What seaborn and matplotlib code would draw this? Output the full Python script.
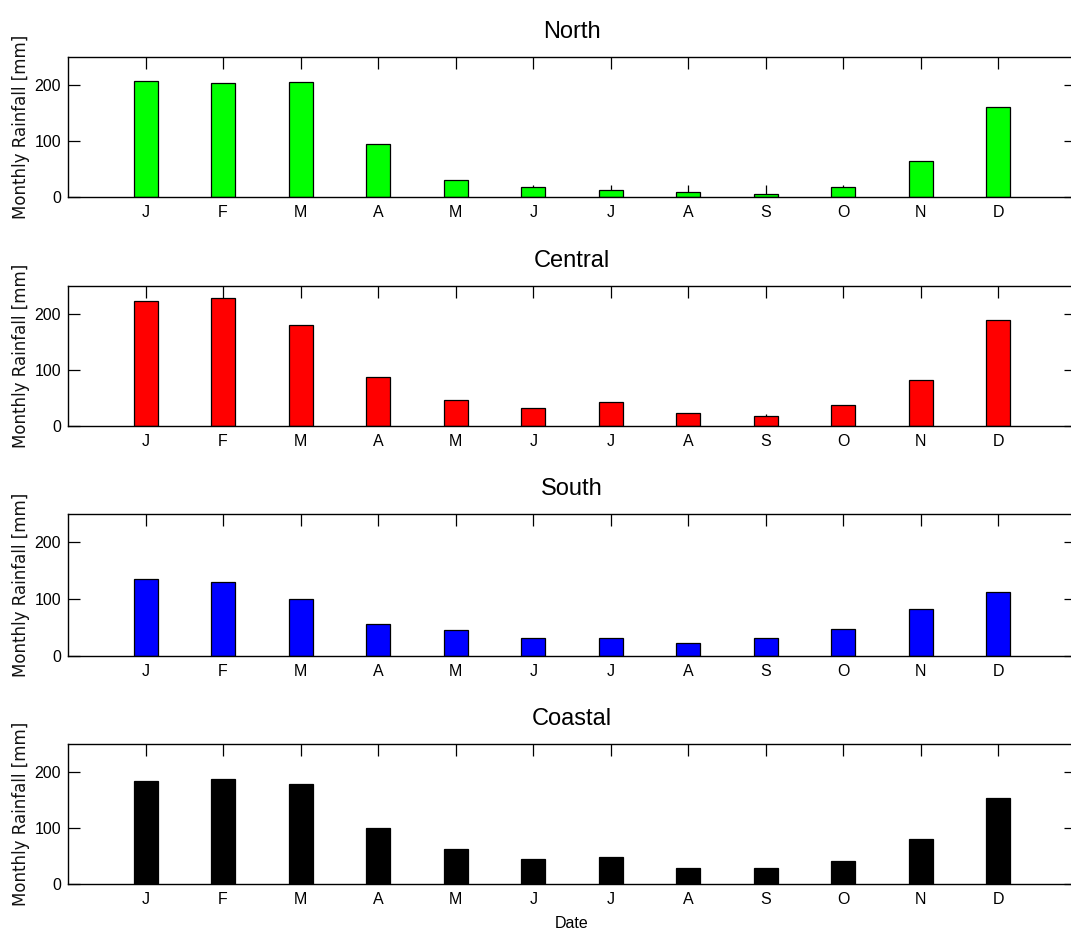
import numpy as np
import matplotlib
matplotlib.use("Agg")
import matplotlib.pyplot as plt
import seaborn as sns

# ---- data ----
month_labels = ["J", "F", "M", "A", "M", "J", "J", "A", "S", "O", "N", "D"]
regions = ["North", "Central", "South", "Coastal"]
north = [208, 203, 206, 94, 31, 17, 12, 9, 6, 17, 64, 161]
central = [223, 229, 181, 88, 46, 32, 43, 23, 18, 37, 83, 190]
south = [136, 131, 100, 57, 46, 32, 32, 23, 32, 48, 82, 113]
coastal = [184, 188, 179, 100, 63, 44, 49, 29, 29, 41, 80, 154]
series = [north, central, south, coastal]
colors = ["#00ff00", "#ff0000", "#0000ff", "#000000"]
y_ticks = [0, 100, 200]

sns.set_theme(style="white")
plt.rcParams["font.family"] = ["Liberation Sans", "DejaVu Sans"]

W, H = 1071, 933
fig = plt.figure(figsize=(W / 100, H / 100), dpi=100)

# axes pixel extents (top, bottom)
extents = [(57, 197), (286, 426), (514, 656), (744, 884)]
left_px, right_px = 68, 1076

xpos = np.arange(len(month_labels))
for i, (name, vals, col) in enumerate(zip(regions, series, colors)):
    top, bot = extents[i]
    ax = fig.add_axes([left_px / W, 1 - bot / H, (right_px - left_px) / W, (bot - top) / H])
    sns.barplot(x=xpos, y=vals, color=col, saturation=1, width=0.31,
                edgecolor="black", linewidth=0.9, ax=ax)
    ax.set_xlim(-1, 12)
    ax.set_ylim(0, 250)
    ax.set_xticks(xpos)
    ax.set_xticklabels(month_labels)
    ax.set_yticks(y_ticks)
    ax.set_yticklabels([str(v) for v in y_ticks])
    ax.tick_params(axis="both", direction="in", top=True, right=True, bottom=True, left=True,
                   length=8.5, width=0.9, color="black", labelsize=11.5, labelcolor="black")
    ax.tick_params(axis="x", pad=6)
    ax.tick_params(axis="y", pad=5)
    for sp in ax.spines.values():
        sp.set_visible(True)
        sp.set_color("black")
        sp.set_linewidth(1.0)
    ax.set_title(name, fontsize=17, pad=13.5, color="black")
    ax.set_ylabel("Monthly Rainfall [mm]", fontsize=12, family=["DejaVu Sans"], color="#111111")
    ax.yaxis.set_label_coords(-0.038, 0.5)
    if i == len(regions) - 1:
        ax.set_xlabel("Date", fontsize=11.5, labelpad=6, color="black")
    else:
        ax.set_xlabel("")

fig.savefig("out.png", dpi=100, facecolor="white")
